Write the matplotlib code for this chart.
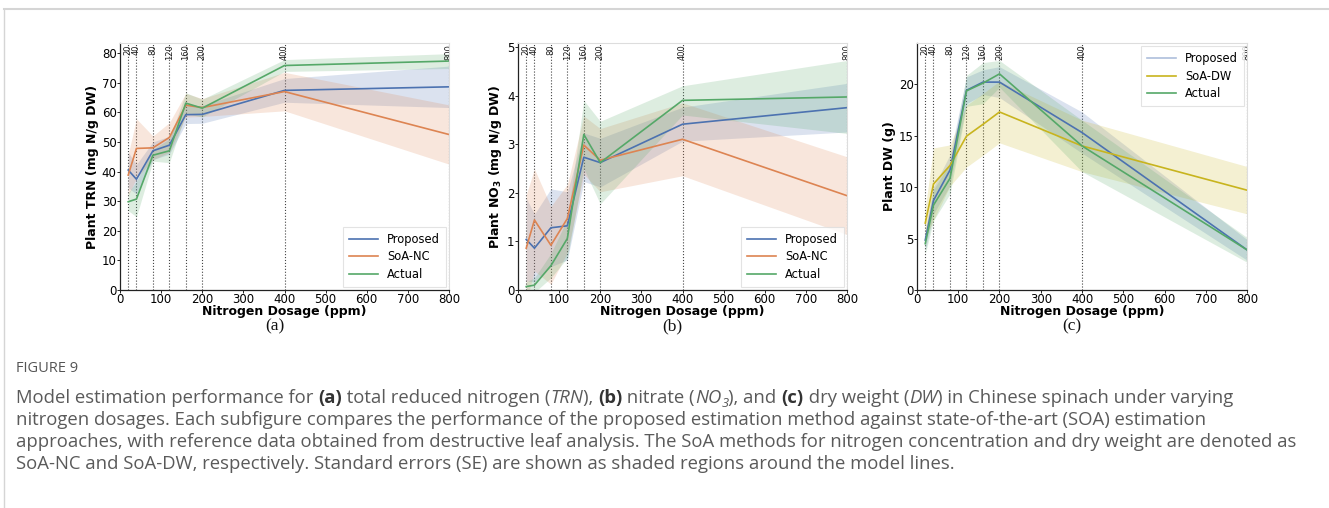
import matplotlib
matplotlib.use('Agg')
import matplotlib.pyplot as plt
from matplotlib.lines import Line2D
from matplotlib.transforms import IdentityTransform

# ---------------- data ----------------
doses = [20, 40, 80, 120, 160, 200, 400, 800]
dose_labels = ['20', '40', '80', '120', '160', '200', '400', '800']

trn_prop = [40.5, 37.4, 47.0, 48.9, 59.2, 59.3, 67.4, 68.6]
trn_prop_se = [6.0, 5.0, 3.0, 3.0, 3.0, 3.0, 4.0, 7.0]
trn_soa = [38.8, 47.8, 48.0, 51.5, 62.4, 61.6, 67.0, 52.5]
trn_soa_se = [7.0, 10.0, 4.0, 5.0, 4.0, 3.0, 6.5, 10.0]
trn_act = [29.8, 30.7, 45.5, 47.0, 63.1, 61.4, 75.8, 77.3]
trn_act_se = [3.0, 6.0, 2.0, 4.0, 3.5, 3.0, 2.0, 2.5]

no3_prop = [1.04, 0.86, 1.28, 1.32, 2.73, 2.62, 3.41, 3.75]
no3_prop_se = [0.85, 0.70, 0.80, 0.70, 0.50, 0.50, 0.35, 0.50]
no3_soa = [0.86, 1.44, 0.92, 1.47, 2.98, 2.67, 3.10, 1.94]
no3_soa_se = [1.10, 1.05, 0.80, 0.70, 0.60, 0.65, 0.75, 0.80]
no3_act = [0.07, 0.10, 0.50, 1.06, 3.20, 2.62, 3.90, 3.97]
no3_act_se = [0.10, 0.15, 0.25, 0.40, 0.70, 0.85, 0.30, 0.75]

dw_prop = [4.85, 8.7, 11.65, 19.4, 20.2, 20.2, 15.3, 3.9]
dw_prop_se = [1.0, 1.3, 1.5, 1.3, 1.2, 1.5, 2.0, 1.0]
dw_soa = [6.5, 10.3, 12.1, 14.95, 16.1, 17.3, 14.0, 9.7]
dw_soa_se = [1.5, 3.5, 2.0, 3.0, 3.0, 3.0, 2.5, 2.3]
dw_act = [4.5, 8.25, 10.85, 19.35, 20.1, 21.0, 14.0, 3.9]
dw_act_se = [1.0, 1.5, 1.5, 1.5, 2.0, 1.3, 2.5, 1.2]

C_BLUE = '#4c72b0'
C_ORANGE = '#dd8452'
C_GREEN = '#55a868'
C_YELLOW = '#c8b41e'

W, H = 1329, 508
fig = plt.figure(figsize=(W / 100, H / 100), dpi=100)
fig.patch.set_facecolor('white')


def ax_rect(left, right, top, bottom):
    return [left / W, 1 - bottom / H, (right - left) / W, (bottom - top) / H]


def panel(rect, ylim, yticks, ylabel, series, legend_loc):
    ax = fig.add_axes(rect)
    for vals, se, color, label in series:
        lo = [v - s for v, s in zip(vals, se)]
        hi = [v + s for v, s in zip(vals, se)]
        ax.fill_between(doses, lo, hi, color=color, alpha=0.2, lw=0)
        ax.plot(doses, vals, color=color, lw=1.2, label=label)
    for d, lab in zip(doses, dose_labels):
        ax.axvline(d, color='#444444', ls=':', lw=0.8, zorder=0)
        ax.text(d, ylim[1] * 0.995, lab, rotation=90, ha='center', va='top',
                fontsize=6, color='#222222', clip_on=True)
    ax.set_xlim(0, 800)
    ax.set_ylim(*ylim)
    ax.set_xticks(range(0, 801, 100))
    ax.set_yticks(yticks)
    ax.tick_params(labelsize=8.5, length=2, width=0.6, pad=0.5)
    for s in ['top', 'right']:
        ax.spines[s].set_color('#dddddd')
    for s in ['left', 'bottom']:
        ax.spines[s].set_color('#222222')
        ax.spines[s].set_linewidth(0.9)
    ax.set_xlabel('Nitrogen Dosage (ppm)', fontsize=9, fontweight='bold', labelpad=-1)
    ax.set_ylabel(ylabel, fontsize=9, fontweight='bold', labelpad=2)
    leg = ax.legend(loc=legend_loc, fontsize=8.3, frameon=True, fancybox=False,
                    borderpad=0.5, handlelength=2.5, labelspacing=0.4,
                    borderaxespad=0.3)
    leg.get_frame().set_edgecolor('#dddddd')
    leg.get_frame().set_linewidth(0.8)
    return ax, leg


axa, _ = panel(ax_rect(120, 449, 43, 290), (0, 83.4), range(0, 81, 10),
               'Plant TRN (mg N/g DW)',
               [(trn_prop, trn_prop_se, C_BLUE, 'Proposed'),
                (trn_soa, trn_soa_se, C_ORANGE, 'SoA-NC'),
                (trn_act, trn_act_se, C_GREEN, 'Actual')], 'lower right')
axb, _ = panel(ax_rect(518, 847, 43, 290), (0, 5.08), range(0, 6),
               r'Plant NO$_\mathbf{3}$ (mg N/g DW)',
               [(no3_prop, no3_prop_se, C_BLUE, 'Proposed'),
                (no3_soa, no3_soa_se, C_ORANGE, 'SoA-NC'),
                (no3_act, no3_act_se, C_GREEN, 'Actual')], 'lower right')
axc, legc = panel(ax_rect(917, 1247, 43, 290), (0, 24.0), range(0, 21, 5),
                  'Plant DW (g)',
                  [(dw_prop, dw_prop_se, C_BLUE, 'Proposed'),
                   (dw_soa, dw_soa_se, C_YELLOW, 'SoA-DW'),
                   (dw_act, dw_act_se, C_GREEN, 'Actual')], 'upper right')
legc.get_lines()[0].set_alpha(0.45)

for ax, lab in [(axa, '(a)'), (axb, '(b)'), (axc, '(c)')]:
    pos = ax.get_position()
    fig.text((pos.x0 + pos.x1) / 2 - 10 / W, 1 - 326 / H, lab, ha='center', va='center',
             fontsize=12.5, family='Liberation Serif', color='#111111')

# frame lines
fig.add_artist(Line2D([4 / W, 1], [1 - 9 / H, 1 - 9 / H], color='#d5d5d5', lw=1.5))
fig.add_artist(Line2D([4 / W, 4 / W], [0, 1 - 9 / H], color='#d5d5d5', lw=1.0))

# caption
CAP = ['Open Sans', 'DejaVu Sans']
fig.text(16 / W, 1 - 369 / H, 'FIGURE 9', fontsize=10.5, family=CAP, color='#555555',
         va='center', ha='left')

renderer = fig.canvas.get_renderer()


def rich_line(x, ybase, segs, size=13.3):
    for seg in segs:
        txt, style = seg[0], seg[1]
        kw = dict(fontsize=size, family=CAP, color='#5a5a5a', va='baseline',
                  ha='left', transform=IdentityTransform())
        dy = 0
        if 'b' in style:
            kw['fontweight'] = 'bold'
            kw['color'] = '#333333'
        if 'i' in style:
            kw['style'] = 'italic'
        if 's' in style:
            kw['fontsize'] = size * 0.7
            dy = -4
        t = fig.text(x, H - ybase + dy, txt, **kw)
        bb = t.get_window_extent(renderer)
        x = bb.x1


lines = [
    [('Model estimation performance for ', ''), ('(a)', 'b'),
     (' total reduced nitrogen (', ''), ('TRN', 'i'), ('), ', ''), ('(b)', 'b'),
     (' nitrate (', ''), ('NO', 'i'), ('3', 'is'), ('), and ', ''), ('(c)', 'b'),
     (' dry weight (', ''), ('DW', 'i'), (') in Chinese spinach under varying', '')],
    [('nitrogen dosages. Each subfigure compares the performance of the proposed '
      'estimation method against state-of-the-art (SOA) estimation', '')],
    [('approaches, with reference data obtained from destructive leaf analysis. '
      'The SoA methods for nitrogen concentration and dry weight are denoted as', '')],
    [('SoA-NC and SoA-DW, respectively. Standard errors (SE) are shown as shaded '
      'regions around the model lines.', '')],
]
for i, segs in enumerate(lines):
    rich_line(16, 403 + 22 * i, segs)

fig.savefig('out.png', dpi=100, facecolor='white')
